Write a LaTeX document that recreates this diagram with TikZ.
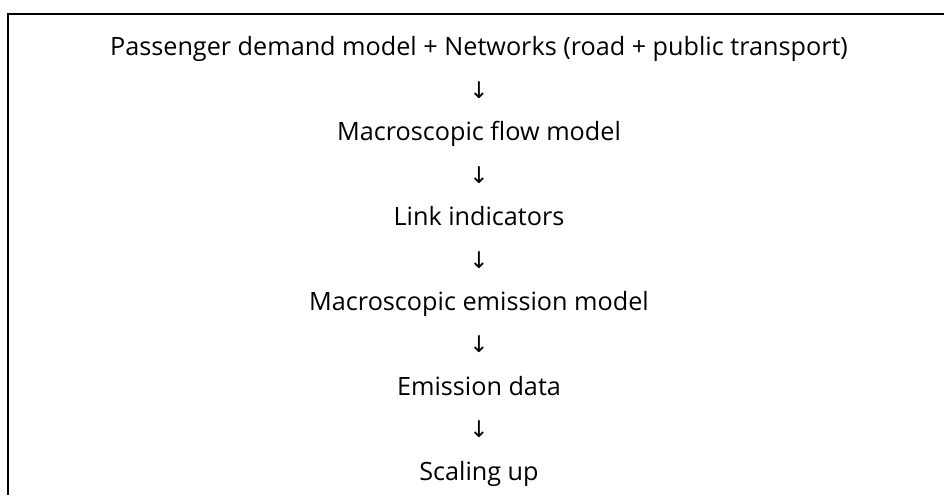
\documentclass[tikz,border=0pt]{standalone}
\usepackage{fontspec}
\setmainfont{Open Sans}
\newfontfamily\arrowfont{DejaVu Sans}
\begin{document}
\begin{tikzpicture}[x=1pt,y=-1pt,
  steptext/.style={anchor=base,inner sep=0pt,font=\fontsize{25.2}{30}\selectfont},
  arrowtext/.style={anchor=base,inner sep=0pt,font=\fontsize{23}{26}\selectfont\arrowfont}]
\useasboundingbox (0,0) rectangle (944,495);
\coordinate (tr) at (944,14);
\coordinate (tl) at (8,14);
\coordinate (bl) at (8,495);
\draw[line width=1.6pt] (tr) -- (tl) -- (bl);
\node[steptext] (s1) at (479,56) {Passenger demand model + Networks (road + public transport)};
\node[arrowtext] (a1) at (479,98.4) {↓};
\node[steptext] (s2) at (479,140.8) {Macroscopic flow model};
\node[arrowtext] (a2) at (479,183.2) {↓};
\node[steptext] (s3) at (479,225.6) {Link indicators};
\node[arrowtext] (a3) at (479,268) {↓};
\node[steptext] (s4) at (479,310.4) {Macroscopic emission model};
\node[arrowtext] (a4) at (479,352.8) {↓};
\node[steptext] (s5) at (479,395.2) {Emission data};
\node[arrowtext] (a5) at (479,437.6) {↓};
\node[steptext] (s6) at (479,480) {Scaling up};
\end{tikzpicture}
\end{document}
